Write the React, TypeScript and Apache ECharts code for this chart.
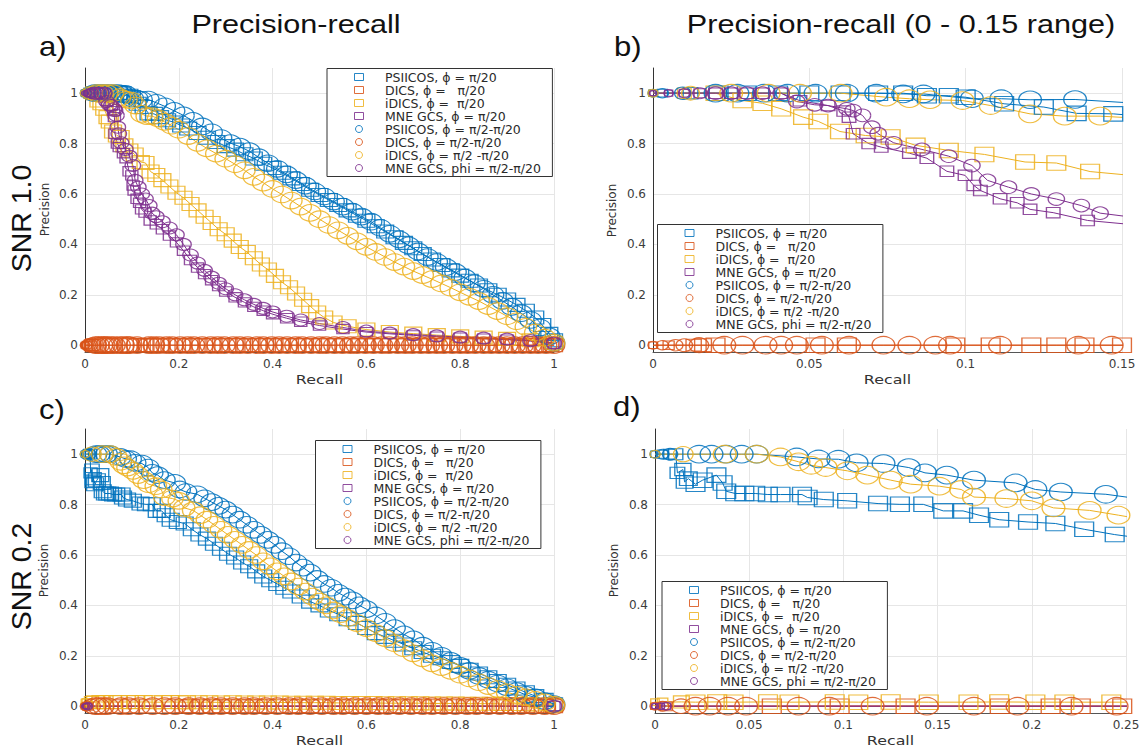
import React, { useEffect, useRef } from "react";
import * as echarts from "echarts";

// ---------- legend / series names ----------
const NAMES = [
  "PSIICOS, ϕ = π/20",
  "DICS, ϕ =   π/20",
  "iDICS, ϕ =  π/20",
  "MNE GCS, ϕ = π/20",
  "PSIICOS, ϕ = π/2-π/20",
  "DICS, ϕ = π/2-π/20",
  "iDICS, ϕ = π/2 -π/20",
  "MNE GCS, phi = π/2-π/20",
];

const COLORS = ["#0072BD", "#D95319", "#EDB120", "#7E2F8E"];

// ---------- tick values ----------
const X_FULL = { min: 0, max: 1, interval: 0.2 };
const X_ZOOM_B = { min: 0, max: 0.15, interval: 0.05 };
const X_ZOOM_D = { min: 0, max: 0.25, interval: 0.05 };
const Y_RANGE = { min: -0.027, max: 1.1 };

// ---------- SNR 1.0 data: [recall, precision] ----------
const PSI_SQ_1 = [[0,1],[0.003,1],[0.012,1],[0.021,1],[0.03,1],[0.04,1],[0.05,1],[0.06,1],[0.072,1],[0.08,1],[0.0876,0.99],[0.0946,0.99],[0.1,0.984],[0.1123,0.958],[0.125,0.945],[0.1355,0.92],[0.1472,0.918],[0.16,0.905],[0.175,0.893],[0.19,0.884],[0.205,0.872],[0.22,0.86],[0.24,0.842],[0.26,0.823],[0.28,0.806],[0.3,0.79],[0.32,0.776],[0.34,0.758],[0.36,0.741],[0.38,0.72],[0.4,0.703],[0.42,0.684],[0.44,0.662],[0.46,0.64],[0.48,0.617],[0.5,0.596],[0.52,0.576],[0.54,0.556],[0.56,0.535],[0.58,0.514],[0.6,0.494],[0.62,0.472],[0.64,0.451],[0.66,0.428],[0.68,0.406],[0.7,0.385],[0.72,0.362],[0.74,0.34],[0.76,0.318],[0.78,0.297],[0.8,0.276],[0.82,0.256],[0.84,0.237],[0.86,0.218],[0.88,0.2],[0.9,0.181],[0.92,0.16],[0.94,0.137],[0.96,0.11],[0.975,0.08],[0.99,0.045],[1,0.02]];
const PSI_CI_1 = [[0,1],[0.003,1],[0.0095,1],[0.02,1],[0.027,1],[0.0355,1],[0.043,1],[0.052,1],[0.062,1],[0.0714,1],[0.08,0.997],[0.0865,0.997],[0.102,0.978],[0.1114,0.978],[0.1206,0.974],[0.135,0.975],[0.152,0.962],[0.17,0.948],[0.19,0.93],[0.21,0.912],[0.23,0.89],[0.25,0.868],[0.27,0.845],[0.29,0.822],[0.31,0.802],[0.33,0.788],[0.35,0.77],[0.37,0.746],[0.39,0.722],[0.41,0.7],[0.43,0.678],[0.45,0.655],[0.47,0.633],[0.49,0.61],[0.51,0.59],[0.53,0.57],[0.55,0.55],[0.57,0.53],[0.59,0.51],[0.61,0.49],[0.63,0.466],[0.65,0.442],[0.67,0.42],[0.69,0.396],[0.71,0.372],[0.73,0.35],[0.75,0.33],[0.77,0.31],[0.79,0.29],[0.81,0.268],[0.83,0.246],[0.85,0.224],[0.87,0.2],[0.89,0.176],[0.91,0.152],[0.93,0.127],[0.95,0.1],[0.97,0.07],[0.99,0.035],[1,0.01]];
const ID_SQ_1 = [[0,1],[0.01,1],[0.02,1],[0.0286,0.971],[0.035,0.96],[0.041,0.938],[0.048,0.905],[0.0529,0.888],[0.0598,0.848],[0.068,0.832],[0.076,0.826],[0.084,0.793],[0.0946,0.773],[0.106,0.757],[0.119,0.727],[0.129,0.723],[0.1398,0.689],[0.152,0.675],[0.165,0.655],[0.18,0.63],[0.195,0.605],[0.21,0.585],[0.225,0.56],[0.24,0.535],[0.255,0.51],[0.27,0.485],[0.285,0.46],[0.3,0.44],[0.315,0.415],[0.33,0.39],[0.345,0.37],[0.36,0.345],[0.375,0.32],[0.39,0.3],[0.405,0.275],[0.42,0.25],[0.435,0.23],[0.45,0.205],[0.465,0.18],[0.48,0.155],[0.495,0.13],[0.51,0.11],[0.53,0.09],[0.56,0.075],[0.6,0.062],[0.65,0.052],[0.7,0.046],[0.75,0.04],[0.8,0.035],[0.85,0.03],[0.9,0.025],[0.95,0.02],[1,0.01]];
const ID_CI_1 = [[0,1],[0.012,1],[0.025,1],[0.037,1],[0.047,1],[0.06,1],[0.0746,0.984],[0.082,0.978],[0.0886,0.974],[0.099,0.971],[0.108,0.951],[0.1206,0.918],[0.1317,0.909],[0.143,0.909],[0.156,0.9],[0.17,0.886],[0.185,0.871],[0.2,0.855],[0.22,0.83],[0.24,0.803],[0.26,0.781],[0.28,0.76],[0.3,0.74],[0.32,0.718],[0.34,0.694],[0.36,0.668],[0.38,0.645],[0.4,0.62],[0.42,0.598],[0.44,0.574],[0.46,0.55],[0.48,0.525],[0.5,0.5],[0.52,0.477],[0.54,0.456],[0.56,0.434],[0.58,0.412],[0.6,0.39],[0.62,0.37],[0.64,0.35],[0.66,0.33],[0.68,0.312],[0.7,0.294],[0.72,0.278],[0.74,0.262],[0.76,0.245],[0.78,0.228],[0.8,0.21],[0.82,0.192],[0.84,0.175],[0.86,0.155],[0.88,0.135],[0.9,0.115],[0.92,0.095],[0.94,0.073],[0.96,0.05],[0.98,0.03],[1,0.01]];
const MNE_SQ_1 = [[0,1],[0.005,1],[0.01,1],[0.015,1],[0.02,1],[0.025,1],[0.03,1],[0.035,1],[0.041,1],[0.047,0.97],[0.056,0.951],[0.061,0.929],[0.0627,0.905],[0.064,0.839],[0.069,0.8],[0.073,0.786],[0.082,0.762],[0.0876,0.742],[0.094,0.69],[0.0998,0.674],[0.1026,0.634],[0.1047,0.614],[0.111,0.581],[0.1165,0.565],[0.1206,0.539],[0.128,0.526],[0.139,0.495],[0.152,0.48],[0.165,0.46],[0.18,0.435],[0.195,0.408],[0.21,0.375],[0.225,0.338],[0.24,0.308],[0.255,0.282],[0.27,0.258],[0.285,0.235],[0.3,0.213],[0.32,0.19],[0.34,0.17],[0.36,0.152],[0.38,0.137],[0.4,0.123],[0.43,0.107],[0.46,0.093],[0.5,0.078],[0.55,0.064],[0.6,0.052],[0.65,0.045],[0.7,0.039],[0.75,0.034],[0.8,0.03],[0.85,0.026],[0.9,0.022],[0.95,0.016],[1,0.006]];
const MNE_CI_1 = [[0,1],[0.005,1],[0.01,1],[0.015,1],[0.02,1],[0.025,1],[0.03,1],[0.035,1],[0.041,1],[0.046,0.967],[0.0517,0.954],[0.056,0.951],[0.062,0.938],[0.064,0.931],[0.067,0.912],[0.07,0.865],[0.072,0.839],[0.077,0.803],[0.086,0.777],[0.0946,0.75],[0.102,0.713],[0.107,0.654],[0.1137,0.627],[0.121,0.6],[0.129,0.58],[0.137,0.554],[0.143,0.524],[0.152,0.51],[0.165,0.49],[0.18,0.465],[0.195,0.438],[0.21,0.4],[0.225,0.358],[0.24,0.326],[0.255,0.297],[0.27,0.27],[0.285,0.246],[0.3,0.224],[0.32,0.2],[0.34,0.18],[0.36,0.162],[0.38,0.146],[0.4,0.132],[0.43,0.115],[0.46,0.1],[0.5,0.086],[0.55,0.07],[0.6,0.056],[0.65,0.048],[0.7,0.042],[0.75,0.037],[0.8,0.032],[0.85,0.028],[0.9,0.024],[0.95,0.018],[1,0.008]];
const DICS_SQ_X_1 = [0,0.005,0.013,0.016,0.02,0.052,0.062,0.0967,0.108,0.121,0.129,0.138,0.15,0.163,0.18,0.196,0.21,0.226,0.242,0.259,0.274,0.29,0.306,0.323,0.339,0.355,0.371,0.388,0.404,0.42,0.437,0.453,0.469,0.486,0.502,0.518,0.535,0.551,0.567,0.584,0.6,0.616,0.633,0.649,0.665,0.682,0.698,0.714,0.731,0.747,0.763,0.78,0.796,0.812,0.829,0.845,0.861,0.878,0.894,0.91,0.927,0.943,0.959,0.976,0.992,1];
const DICS_CI_X_1 = [0,0.003,0.0072,0.01,0.0147,0.0228,0.0286,0.036,0.041,0.046,0.054,0.0627,0.0737,0.082,0.0903,0.095,0.111,0.136,0.1467,0.158,0.174,0.186,0.203,0.219,0.232,0.25,0.268,0.283,0.297,0.316,0.33,0.347,0.366,0.38,0.398,0.414,0.431,0.449,0.463,0.482,0.5,0.514,0.532,0.549,0.566,0.58,0.598,0.615,0.633,0.648,0.667,0.683,0.698,0.716,0.733,0.75,0.765,0.783,0.8,0.816,0.832,0.85,0.866,0.883,0.9,0.916,0.933,0.95,0.966,0.983,1];

// ---------- SNR 0.2 data ----------
const PSI_SQ_2 = [[0,1],[0.004,1],[0.008,1],[0.011,1],[0.0119,0.926],[0.0148,0.939],[0.0157,0.89],[0.0177,0.903],[0.0215,0.881],[0.0253,0.897],[0.0326,0.917],[0.0359,0.886],[0.0378,0.853],[0.0426,0.844],[0.0474,0.844],[0.0532,0.844],[0.0599,0.84],[0.0666,0.84],[0.078,0.84],[0.081,0.828],[0.0896,0.82],[0.102,0.815],[0.1184,0.804],[0.13,0.801],[0.1424,0.801],[0.153,0.775],[0.1635,0.775],[0.172,0.758],[0.1827,0.74],[0.198,0.731],[0.2125,0.725],[0.2278,0.702],[0.244,0.681],[0.26,0.665],[0.275,0.645],[0.29,0.625],[0.305,0.605],[0.32,0.59],[0.335,0.57],[0.35,0.555],[0.365,0.535],[0.38,0.515],[0.395,0.5],[0.41,0.485],[0.425,0.47],[0.44,0.455],[0.46,0.435],[0.48,0.415],[0.5,0.4],[0.52,0.38],[0.54,0.365],[0.56,0.345],[0.58,0.33],[0.6,0.31],[0.62,0.29],[0.64,0.275],[0.66,0.26],[0.68,0.245],[0.7,0.23],[0.72,0.215],[0.74,0.2],[0.76,0.19],[0.78,0.175],[0.8,0.16],[0.82,0.145],[0.84,0.13],[0.86,0.115],[0.88,0.1],[0.9,0.085],[0.92,0.07],[0.94,0.055],[0.96,0.04],[0.98,0.025],[1,0.008]];
const PSI_CI_2 = [[0,1],[0.004,1],[0.008,1],[0.0234,1],[0.03,1],[0.0378,1],[0.046,1],[0.054,1],[0.0752,0.989],[0.0868,0.981],[0.0973,0.98],[0.107,0.966],[0.1213,0.963],[0.1347,0.947],[0.1433,0.926],[0.1549,0.917],[0.1693,0.897],[0.1914,0.886],[0.2019,0.86],[0.2154,0.85],[0.2393,0.841],[0.255,0.825],[0.27,0.81],[0.285,0.795],[0.3,0.78],[0.315,0.76],[0.33,0.74],[0.345,0.72],[0.36,0.7],[0.375,0.68],[0.39,0.66],[0.405,0.64],[0.42,0.615],[0.435,0.595],[0.45,0.57],[0.465,0.55],[0.48,0.53],[0.495,0.505],[0.51,0.485],[0.525,0.47],[0.54,0.45],[0.555,0.435],[0.57,0.42],[0.585,0.4],[0.6,0.385],[0.62,0.36],[0.64,0.335],[0.66,0.31],[0.68,0.285],[0.7,0.265],[0.72,0.24],[0.74,0.22],[0.76,0.2],[0.78,0.18],[0.8,0.16],[0.82,0.14],[0.84,0.12],[0.86,0.105],[0.88,0.09],[0.9,0.075],[0.92,0.06],[0.94,0.045],[0.96,0.035],[0.98,0.02],[1,0.008]];
const ID_SQ_2 = [[0,0.016],[0.004,0.016],[0.014,0.017],[0.0215,0.016],[0.033,0.017],[0.0417,0.016],[0.06,0.017],[0.0714,0.016],[0.0954,0.017],[0.1079,0.016],[0.1251,0.017],[0.1453,0.016],[0.1664,0.016],[0.1827,0.017],[0.2019,0.016],[0.2173,0.016],[0.2422,0.016],[0.265,0.016],[0.29,0.015],[0.315,0.016],[0.34,0.015],[0.365,0.015],[0.39,0.015],[0.415,0.015],[0.44,0.014],[0.465,0.014],[0.49,0.014],[0.515,0.014],[0.54,0.013],[0.565,0.013],[0.59,0.013],[0.615,0.013],[0.64,0.012],[0.665,0.012],[0.69,0.012],[0.715,0.012],[0.74,0.011],[0.765,0.011],[0.79,0.011],[0.815,0.01],[0.84,0.01],[0.865,0.01],[0.89,0.009],[0.915,0.009],[0.94,0.008],[0.965,0.007],[1,0.005]];
const ID_CI_2 = [[0,1],[0.015,1],[0.037,1],[0.054,1],[0.0666,0.989],[0.0762,0.97],[0.0829,0.956],[0.0906,0.947],[0.1021,0.934],[0.1127,0.917],[0.1251,0.897],[0.1357,0.881],[0.151,0.873],[0.1625,0.86],[0.1693,0.83],[0.1865,0.824],[0.2,0.815],[0.2115,0.787],[0.2307,0.777],[0.246,0.758],[0.26,0.74],[0.275,0.72],[0.29,0.7],[0.305,0.68],[0.32,0.66],[0.335,0.64],[0.35,0.62],[0.365,0.6],[0.38,0.575],[0.395,0.555],[0.41,0.535],[0.425,0.515],[0.44,0.495],[0.455,0.475],[0.47,0.455],[0.485,0.435],[0.5,0.415],[0.515,0.4],[0.53,0.38],[0.545,0.365],[0.56,0.35],[0.58,0.33],[0.6,0.31],[0.62,0.29],[0.64,0.27],[0.66,0.25],[0.68,0.23],[0.7,0.21],[0.72,0.19],[0.74,0.17],[0.76,0.155],[0.78,0.14],[0.8,0.125],[0.82,0.11],[0.84,0.095],[0.86,0.08],[0.88,0.068],[0.9,0.055],[0.92,0.045],[0.94,0.035],[0.96,0.025],[0.98,0.015],[1,0.006]];
const DICS_SQ_X_2 = [0,0.006,0.062,0.098,0.133,0.183,0.21,0.226,0.248,0.27,0.29,0.31,0.33,0.35,0.37,0.39,0.415,0.44,0.46,0.48,0.5,0.525,0.545,0.565,0.59,0.61,0.63,0.655,0.675,0.7,0.72,0.745,0.765,0.785,0.81,0.83,0.85,0.875,0.895,0.92,0.94,0.96,0.985,1];
const DICS_CI_X_2 = [0,0.004,0.0138,0.0215,0.029,0.0388,0.0484,0.0762,0.0925,0.1155,0.1443,0.1693,0.1924,0.2211,0.245,0.27,0.29,0.315,0.34,0.36,0.385,0.41,0.435,0.455,0.48,0.505,0.53,0.55,0.575,0.6,0.625,0.645,0.67,0.695,0.72,0.74,0.765,0.79,0.815,0.835,0.86,0.885,0.91,0.93,0.955,0.98,1];
const MNE_X_2 = [0,0.003,0.006,1];

const zeros = (xs: number[]) => xs.map((x) => [x, 0]);

const SNR1 = [PSI_SQ_1, zeros(DICS_SQ_X_1), ID_SQ_1, MNE_SQ_1, PSI_CI_1, zeros(DICS_CI_X_1), ID_CI_1, MNE_CI_1];
const SNR2 = [PSI_SQ_2, zeros(DICS_SQ_X_2), ID_SQ_2, zeros(MNE_X_2), PSI_CI_2, zeros(DICS_CI_X_2), ID_CI_2, zeros(MNE_X_2)];

// ---------- layout ----------
const GRIDS = [
  { left: 85, top: 68, width: 469, height: 284 },
  { left: 653, top: 68, width: 469, height: 284 },
  { left: 85, top: 429, width: 469, height: 284 },
  { left: 655, top: 429, width: 471, height: 284 },
];
const LEGEND_POS = [
  { left: 327, top: 68.5 },
  { left: 657.5, top: 224.5 },
  { left: 315.5, top: 440.5 },
  { left: 662, top: 581.5 },
];

function sizeFn(shape: string, zoomed: boolean, scale: number) {
  const base = (shape === "circle" ? (zoomed ? 17.5 : 16.5) : zoomed ? 14.5 : 13) * scale;
  return (v: number[]) => {
    const f = Math.min(1, 0.45 + (0.55 * v[0]) / 0.02);
    const h = base * f;
    return [h * 1.3, h];
  };
}

function buildOption() {
  const xCfg = [X_FULL, X_ZOOM_B, X_FULL, X_ZOOM_D];
  const labelStyle = { fontFamily: "DejaVu Sans", fontSize: 12, color: "#3c3c3c" };
  const xAxis = xCfg.map((c, i) => ({
    type: "value",
    gridIndex: i,
    min: c.min,
    max: c.max,
    interval: c.interval,
    axisLine: { show: true, onZero: false, lineStyle: { color: "#555", width: 1 } },
    axisTick: { show: false },
    axisLabel: { ...labelStyle, margin: 6 },
    splitLine: { show: true, showMinLine: false, lineStyle: { color: "#e6e6e6", width: 1 } },
  }));
  const yAxis = GRIDS.map((_, i) => ({
    type: "value",
    gridIndex: i,
    min: Y_RANGE.min,
    max: Y_RANGE.max,
    splitNumber: 5,
    axisLine: { show: true, onZero: false, lineStyle: { color: "#333", width: 1 } },
    axisTick: { show: false },
    axisLabel: { ...labelStyle, margin: 7, showMinLabel: false, showMaxLabel: false },
    splitLine: { show: true, showMinLine: false, showMaxLine: false, lineStyle: { color: "#e6e6e6", width: 1 } },
  }));

  const series: any[] = [];
  for (let p = 0; p < 4; p++) {
    const set = p < 2 ? SNR1 : SNR2;
    const zoomed = p % 2 === 1;
    set.forEach((data, k) => {
      const shape = k < 4 ? "rect" : "circle";
      const color = COLORS[k % 4];
      const scale = k % 4 === 3 ? 0.72 : 1;
      series.push({
        type: "line",
        name: NAMES[k],
        data,
        xAxisIndex: p,
        yAxisIndex: p,
        symbol: shape,
        symbolSize: sizeFn(shape, zoomed, scale),
        showSymbol: true,
        clip: zoomed,
        lineStyle: { color, width: 1 },
        itemStyle: { color: "transparent", borderColor: color, borderWidth: 1.2, opacity: 0.85 },
        emphasis: { disabled: true },
        silent: true,
      });
    });
  }

  const legend = LEGEND_POS.map((pos) => ({
    orient: "vertical",
    left: pos.left,
    top: pos.top,
    padding: [2, 11.5, 2, 27],
    itemWidth: 9,
    itemHeight: 7,
    itemGap: 0,
    symbolKeepAspect: false,
    backgroundColor: "#fff",
    borderColor: "#333",
    borderWidth: 1,
    borderRadius: 0,
    selectedMode: false,
    textStyle: { fontFamily: "DejaVu Sans", fontSize: 12.5, color: "#2a2a2a", lineHeight: 13, padding: [0, 0, 0, 16.5] },
    data: NAMES.map((n, k) => ({
      name: n,
      icon: k < 4 ? "rect" : "circle",
      itemStyle: { color: "transparent", borderColor: COLORS[k % 4], borderWidth: 1 },
    })),
  }));

  const txt = (text: string, x: number, y: number, font: string, opts: any = {}) => ({
    type: "text",
    x,
    y,
    rotation: opts.rotation || 0,
    scaleX: opts.scaleX || 1,
    silent: true,
    z: 10,
    style: {
      text,
      font,
      fill: opts.fill || "#111",
      textAlign: opts.align || "center",
      align: opts.align || "center",
      textVerticalAlign: "middle",
      verticalAlign: "middle",
    },
  });
  const big = '25.5px "Liberation Sans", Arial, sans-serif';
  const lab = '27px "Liberation Sans", Arial, sans-serif';
  const snr = '28.5px "Liberation Sans", Arial, sans-serif';
  const axn = '12px "DejaVu Sans", sans-serif';
  const rec = '13px "DejaVu Sans", sans-serif';
  const R = Math.PI / 2;
  const graphic = [
    txt("Precision-recall", 296, 24.5, big, { scaleX: 1.2 }),
    txt("Precision-recall (0 - 0.15 range)", 901, 24.5, big, { scaleX: 1.2 }),
    txt("a)", 39, 47, lab, { align: "left", scaleX: 1.15 }),
    txt("b)", 614, 47, lab, { align: "left", scaleX: 1.15 }),
    txt("c)", 39, 410, lab, { align: "left", scaleX: 1.15 }),
    txt("d)", 613, 406.5, lab, { align: "left", scaleX: 1.15 }),
    txt("SNR 1.0", 21, 218.5, snr, { rotation: R }),
    txt("SNR 0.2", 21, 576.5, snr, { rotation: R }),
    txt("Precision", 45, 209.5, axn, { rotation: R, fill: "#333" }),
    txt("Precision", 612, 210.5, axn, { rotation: R, fill: "#333" }),
    txt("Precision", 44, 570.5, axn, { rotation: R, fill: "#333" }),
    txt("Precision", 614, 570.5, axn, { rotation: R, fill: "#333" }),
    txt("Recall", 319.5, 380, rec, { scaleX: 1.22, fill: "#333" }),
    txt("Recall", 887.5, 380, rec, { scaleX: 1.22, fill: "#333" }),
    txt("Recall", 319.5, 741, rec, { scaleX: 1.22, fill: "#333" }),
    txt("Recall", 890.5, 741, rec, { scaleX: 1.22, fill: "#333" }),
  ];

  return {
    animation: false,
    backgroundColor: "#ffffff",
    grid: GRIDS.map((g) => ({ ...g, containLabel: false, outerBoundsMode: "none" })),
    xAxis,
    yAxis,
    legend,
    series,
    graphic,
    tooltip: { show: false },
  };
}

export default function App() {
  const ref = useRef<HTMLDivElement>(null);
  useEffect(() => {
    document.body.style.margin = "0";
    if (!ref.current) return;
    const chart = echarts.init(ref.current, undefined, { renderer: "svg" });
    chart.setOption(buildOption() as any);
    return () => chart.dispose();
  }, []);
  return <div ref={ref} style={{ width: 1146, height: 749, background: "#fff" }} />;
}
